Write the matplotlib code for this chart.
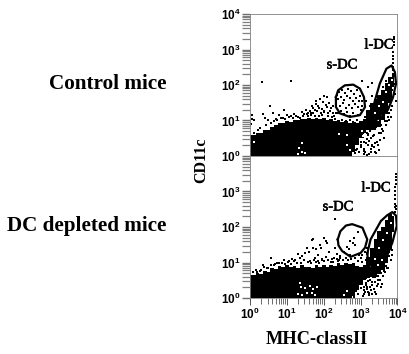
import matplotlib
matplotlib.use("Agg")
import numpy as np
import matplotlib.pyplot as plt
import matplotlib.patheffects as pe

W, H = 410, 354

mass_x = [0, .1, .2, .3, .4, .5, .6, .7, .8, .9, 1.0, 1.1, 1.2, 1.3, 1.4, 1.5, 1.6, 1.7, 1.8, 1.9,
          2.0, 2.1, 2.2, 2.3, 2.4, 2.5, 2.6, 2.7, 2.8, 2.9, 3.0, 3.1, 3.2, 3.3, 3.4, 3.5, 3.6, 3.7, 3.8, 3.9]
top_mass_hi = [.59, .60, .66, .65, .73, .72, .83, .86, .93, .92, .98, .97, 1.02, 1.00, 1.05, 1.03, 1.08, 1.05, 1.08, 1.03,
               1.07, 1.00, 1.03, .98, 1.00, .95, .98, .92, .96, .92, .98, 1.05, 1.30, 1.50, 1.60, 1.72, 1.85, 2.05, 2.22, 2.35]
top_mass_lo = [0, 0, 0, 0, 0, 0, 0, 0, 0, 0, 0, 0, 0, 0, 0, 0, 0, 0, 0, 0,
               0, 0, 0, 0, 0, 0, 0, 0, .12, .30, .50, .62, .72, .72, .78, .82, 1.00, 1.22, 1.50, 1.95]
bot_mass_hi = [.66, .64, .70, .68, .76, .74, .84, .82, .90, .86, .92, .86, .90, .84, .92, .86, .88, .84, .92, .88,
               .94, .86, .92, .90, .98, .92, 1.00, .95, .98, .90, .86, .92, 1.15, 1.42, 1.65, 1.90, 2.00, 2.20, 2.36, 2.30]
bot_mass_lo = [0, 0, 0, 0, 0, 0, 0, 0, 0, 0, 0, 0, 0, 0, 0, 0, 0, 0, 0, 0,
               0, 0, 0, 0, 0, 0, 0, 0, .05, .22, .38, .50, .55, .58, .60, .68, .80, 1.00, 1.35, 1.85]

top_pts_x = [.32, 1.10, .55, .92, .05, .05, .10, .03, .35, .42, .50, .62, .70, .78, .90, 1.00, 1.10, 1.20, 1.30, 1.45,
             1.55, 1.65, 1.70, 1.75, 1.85, 1.80, 1.90, 2.00, 2.10, 2.15, 2.05, 2.20, 2.00, 2.25, 2.30, 1.95, 2.12, 2.22,
             2.35, 2.42, 2.50, 2.58, 2.66, 2.74, 2.82, 2.90, 2.98, 3.05, 2.40, 2.48, 2.56, 2.64, 2.72, 2.80, 2.88, 2.96,
             3.04, 2.44, 2.52, 2.60, 2.68, 2.76, 2.84, 2.92, 3.00, 2.38, 2.46, 2.54, 2.62, 2.70, 2.78, 2.86, 2.94, 2.50,
             2.60, 2.70, 2.80, 2.90, 2.66, 2.76, 2.86, 3.20, 3.30, 3.05, 3.30, 3.25, 3.15, 3.22, 3.12, 3.18, 3.10, 3.02,
             3.08, 3.20, 3.28, 3.35, 3.42, 3.50, 3.12, 3.24, 3.32, 3.16, 3.40, 3.28, 3.20, 3.10, 3.36, 3.52, 3.60, 3.68,
             3.75, 3.82, 3.88, 3.88, 3.88, 3.89, 3.89, 3.89, 3.90, 3.90, 3.90, 3.90, 3.72, 3.80, 3.66, 3.58, 3.70, 3.62,
             .12, .22, .28, .44, .56, .66, .74, .84, .96, 1.06, 1.16, 1.26, 1.36, 1.46, 1.56, 1.66, 1.76, 1.86, 1.96,
             1.40, 1.52, 1.62, 1.72, 1.82, 1.92, 2.02, 2.12, 2.18, 2.28, 2.34, 1.58, 1.68, 1.78, 1.88, 1.98, 2.08, 2.24,
             2.72, 2.78, 2.84, 2.90, 2.96, 3.02, 3.08, 2.74, 2.82, 2.88, 2.94, 3.00, 3.06, 3.14, 2.86, 2.92, 2.98, 3.04,
             3.10, 3.16, 3.22, 3.28, 3.34, 3.40, 3.46, 3.54, 3.14, 3.20, 3.26, 3.32, 3.38, 3.44, 3.50, 3.56, 3.64, 3.72,
             3.78, 3.84, 3.92, 3.94, 3.86, 3.74, 3.62, 3.92, 3.96, 3.68, 3.78, 3.82]
top_pts_y = [2.08, 2.12, 1.42, 1.30, 1.15, 1.05, 1.02, .90, 1.18, 1.08, 1.02, 1.20, 1.05, 1.15, 1.08, 1.15, 1.12, 1.18, 1.10, 1.12,
             1.18, 1.20, 1.35, 1.30, 1.40, 1.55, 1.60, 1.70, 1.65, 1.50, 1.45, 1.35, 1.25, 1.20, 1.05, 1.32, 1.22, 1.10,
             1.72, 1.80, 1.85, 1.78, 1.88, 1.82, 1.76, 1.86, 1.70, 1.55, 1.60, 1.66, 1.58, 1.68, 1.62, 1.56, 1.64, 1.54,
             1.40, 1.42, 1.48, 1.36, 1.44, 1.34, 1.46, 1.38, 1.30, 1.22, 1.26, 1.18, 1.24, 1.14, 1.20, 1.12, 1.16, 1.02,
             .98, 1.00, .96, 1.02, .88, .90, .92, 1.95, 2.05, 2.10, 1.70, 1.40, 1.55, 1.25, 1.10, .66, .40, .30,
             .20, .30, .12, .25, .08, .18, .10, .06, .32, .48, .36, .52, .62, .72, .58, .46, .70, .88,
             1.10, 1.30, 2.42, 2.52, 2.62, 2.72, 2.82, 2.92, 3.22, 3.30, 3.35, 3.12, 1.20, 1.60, .98, .75, 2.10, 1.95,
             .66, .72, .80, .86, .92, .98, 1.00, 1.06, 1.04, 1.10, 1.06, 1.14, 1.08, 1.18, 1.12, 1.16, 1.14, 1.12, 1.16,
             1.24, 1.30, 1.28, 1.22, 1.26, 1.20, 1.28, 1.14, 1.28, 1.12, 1.20, 1.22, 1.42, 1.46, 1.34, 1.52, 1.38, 1.42,
             .04, .14, .08, .20, .10, .24, .06, .26, .34, .16, .44, .40, .54, .36, .60, .48, .74, .64,
             .14, .04, .42, .20, .56, .10, .30, .66, .88, .58, .70, .28, .76, .40, .64, .86, .52, .98,
             1.20, 1.42, 2.02, 2.24, 1.85, 1.68, 1.60, 1.75, 1.55, 1.32, 1.02, 1.10]

bot_pts_x = [.58, 1.72, 1.92, 2.30, 2.05, 1.90, 1.80, 1.70, 1.60, 1.50, 1.42, 1.35, 1.30, 1.22, 1.15, 1.05, .92, .80, .68,
             .45, .35, .30, .20, 1.62, 1.75, 1.85, 1.95, 2.05, 2.15, 2.22, 2.30, 2.38, 2.10, 2.00, 1.55, 1.68, 1.78, 1.88,
             2.45, 2.25, 2.35, 2.42, 2.58, 2.62, 2.70, 2.78, 2.82, 2.55, 2.68, 2.86, 2.72, 2.93, 3.00, 3.05, 3.12, 3.18,
             3.02, 3.10, 2.98, 3.06, 3.14, 3.20, 3.00, 3.08, 3.16, 3.24, 3.30, 3.38, 3.46, 3.54, 3.40, 3.48, 3.56, 3.64,
             3.72, 3.10, 3.15, 3.26, 3.34, 3.22, 3.28, 3.60, 3.70, 3.78, 3.84, 3.90, 3.92, 3.93, 3.93, 3.94, 3.94, 3.94,
             3.94, 3.95, 3.95, 3.95, 3.95, 3.96, 3.96, 3.80, 3.76, 3.68, 3.50, 3.42, 3.35,
             .08, .16, .26, .38, .48, .56, .64, .74, .86, .96, 1.04, 1.12, 1.18, 1.28, 1.38, 1.46, 1.56, 1.66, 1.74, 1.84,
             1.94, 2.02, 2.12, 2.20, 2.28, 2.36, 2.44, 2.52, 2.60, 2.66, 2.74, 2.84, 2.92, 2.96, 3.04, 3.14,
             2.76, 2.82, 2.88, 2.94, 3.00, 3.06, 3.12, 3.18, 3.24, 3.30, 3.36, 3.42, 3.48, 2.84, 2.90, 2.96, 3.02, 3.08,
             3.14, 3.20, 3.26, 3.32, 3.38, 3.44, 3.52, 3.58, 3.66, 3.74, 3.82, 3.86, 3.62, 3.70]
bot_pts_y = [1.14, 1.65, 1.42, 2.22, 1.60, 1.50, 1.38, 1.42, 1.30, 1.28, 1.18, 1.12, 1.24, 1.06, 1.10, 1.04, 1.08, 1.00, .96,
             .84, .92, .78, .74, 1.05, 1.12, 1.22, 1.08, 1.15, 1.30, 1.10, 1.42, 1.05, 1.55, 1.70, 1.40, 1.62, 1.02, 1.00,
             1.18, 1.02, 1.25, 1.06, .60, 1.45, 1.60, 1.55, 1.70, 1.30, 1.38, 1.50, 1.22, 1.85, 1.12, 1.20, 1.30, 1.42,
             .85, .78, .68, .62, .55, .48, .42, .30, .24, .14, .38, .18, .40, .30, .58, .62, .70, .76,
             .85, .12, .42, .50, .60, .08, .22, .96, 1.02, 1.18, 1.36, 1.75, 2.42, 2.55, 2.66, 2.78, 2.90, 3.02,
             3.12, 3.22, 3.32, 3.40, 3.48, 2.50, 2.60, 1.48, 1.30, 1.10, .86, .82, .70,
             .72, .78, .76, .86, .84, .94, .92, .98, 1.00, .96, 1.02, .96, 1.04, .98, 1.00, 1.06, 1.02, .98, 1.06, 1.04,
             1.10, 1.04, 1.08, 1.02, 1.12, 1.10, 1.14, 1.06, 1.12, 1.06, 1.10, 1.14, 1.04, 1.20, 1.02, 1.06,
             .10, .04, .20, .12, .28, .06, .18, .32, .08, .46, .26, .12, .50, .34, .44, .54, .60, .22,
             .36, .16, .30, .10, .46, .34, .52, .40, .72, .84, 1.08, 1.22, .62, .90]

# white specks inside the black mass
top_holes_x = [1.30, 1.40, 1.32, 1.42, 1.50, 2.62, 2.70, 2.78, .10, 2.42, 2.62, 3.06, 3.12, 3.04, 3.38, 3.50, 3.62, 3.70, 3.76, 3.84, 3.46, 3.58]
top_holes_y = [.05, .12, .22, .38, .08, .32, .18, .06, .40, .62, .60, .56, .62, .70, 1.20, 1.42, 1.52, 1.80, 2.00, 2.14, 1.02, 1.14]
bot_holes_x = [1.30, 1.38, 1.42, 1.55, 1.62, 1.75, 1.72, 1.82, 1.68, 1.48, 1.36, 2.62, 2.56, 3.38, 3.50, 3.62, 3.72, 3.82, 3.46, 3.58, 3.26]
bot_holes_y = [.10, .30, .08, .15, .34, .08, .25, .30, .14, .28, .42, .20, .08, 1.10, 1.40, 1.62, 1.84, 2.10, .92, 1.08, .86]

# gates
top_sdc_x = [2.33, 2.39, 2.57, 2.80, 2.98, 3.09, 3.12, 2.98, 2.71, 2.44, 2.33, 2.33]
top_sdc_y = [1.66, 1.85, 1.99, 2.01, 1.90, 1.66, 1.38, 1.15, 1.10, 1.20, 1.38, 1.66]
top_ldc_x = [3.30, 3.39, 3.52, 3.70, 3.84, 3.93, 3.96, 3.88, 3.74, 3.56, 3.40, 3.30, 3.30]
top_ldc_y = [1.20, 1.57, 2.04, 2.46, 2.55, 2.36, 2.04, 1.66, 1.30, 1.10, 1.00, 1.05, 1.20]

bot_sdc_x = [2.38, 2.45, 2.60, 2.77, 3.05, 3.18, 3.12, 3.00, 2.73, 2.50, 2.40, 2.38]
bot_sdc_y = [1.65, 1.88, 2.04, 2.08, 1.98, 1.65, 1.42, 1.27, 1.16, 1.32, 1.48, 1.65]
bot_ldc_x = [3.18, 3.27, 3.55, 3.72, 3.86, 3.96, 3.98, 3.86, 3.64, 3.36, 3.22, 3.18]
bot_ldc_y = [1.25, 1.65, 2.17, 2.33, 2.42, 2.32, 2.03, 1.56, .99, .75, .90, 1.25]

minor = [m * 10 ** d for d in range(4) for m in range(2, 10)]

plt.rcParams["mathtext.fontset"] = "custom"
plt.rcParams["mathtext.rm"] = "Liberation Sans:bold"
plt.rcParams["mathtext.bf"] = "Liberation Sans:bold"
plt.rcParams["font.family"] = "Liberation Serif"

fig = plt.figure(figsize=(W / 100, H / 100), dpi=100)


def panel(top, bottom, hi, lo, pts, holes, sdc, ldc, ylabels, xaxis):
    ax = fig.add_axes([250 / W, 1 - bottom / H, 147.5 / W, (bottom - top) / H])
    ax.set_xscale("log")
    ax.set_yscale("log")
    ax.set_xlim(1, 1e4)
    ax.set_ylim(1, 1e4)
    ax.fill_between(10 ** np.array(mass_x), 10 ** np.array(lo), 10 ** np.array(hi), color="black", lw=0, step="mid")
    ax.scatter(10 ** np.array(pts[0]), 10 ** np.array(pts[1]), s=1.0, marker="s", c="black", linewidths=0)
    ax.scatter(10 ** np.array(holes[0]), 10 ** np.array(holes[1]), s=1.0, marker="s", c="white", linewidths=0)
    ax.plot(10 ** np.array(sdc[0]), 10 ** np.array(sdc[1]), color="black", lw=1.6)
    ax.plot(10 ** np.array(ldc[0]), 10 ** np.array(ldc[1]), color="black", lw=1.6)
    for s in ax.spines.values():
        s.set_color("#808080")
        s.set_linewidth(0.6)
    ax.set_yticks([10 ** d for d in ylabels], [f"$\\mathbf{{10^{{{d}}}}}$" for d in ylabels], fontsize=8.5)
    ax.set_yticks(minor, minor=True, labels=[])
    ax.tick_params(axis="y", which="major", length=6, width=1, color="#707070", pad=1)
    ax.tick_params(axis="y", which="minor", length=6, width=0.9, color="#808080")
    if xaxis:
        ax.set_xticks([1, 10, 100, 1000, 10000], [f"$\\mathbf{{10^{{{d}}}}}$" for d in range(5)], fontsize=8.5)
        ax.set_xticks(minor, minor=True, labels=[])
        ax.tick_params(axis="x", which="major", length=5, width=0.7, color="#555555", pad=1)
        ax.tick_params(axis="x", which="minor", length=4, width=0.6, color="#555555")
    else:
        ax.set_xticks([])
        ax.set_xticks([], minor=True)
    return ax


panel(14, 156, top_mass_hi, top_mass_lo, (top_pts_x, top_pts_y), (top_holes_x, top_holes_y),
      (top_sdc_x, top_sdc_y), (top_ldc_x, top_ldc_y), [0, 1, 2, 3, 4], False)
panel(156, 298, bot_mass_hi, bot_mass_lo, (bot_pts_x, bot_pts_y), (bot_holes_x, bot_holes_y),
      (bot_sdc_x, bot_sdc_y), (bot_ldc_x, bot_ldc_y), [0, 1, 2, 3], True)


def label(x, y, s, size, weight="bold", **kw):
    return fig.text(x / W, 1 - y / H, s, fontsize=size, fontweight=weight, va="center", **kw)


label(167, 84, "Control mice", 15.2, ha="right")
label(166, 226, "DC depleted mice", 15.2, ha="right")
label(201, 160, "CD11c", 11.5, ha="center", rotation=90)
label(317, 340, "MHC-classII", 13.2, ha="center")
for x, y, s in [(342, 65, "s-DC"), (379, 45, "l-DC"), (338, 207, "s-DC"), (376, 188, "l-DC")]:
    t = label(x, y, s, 10.5, weight="normal", ha="center")
    t.set_path_effects([pe.withStroke(linewidth=0.4, foreground="black")])

fig.savefig("out.png", dpi=100)
